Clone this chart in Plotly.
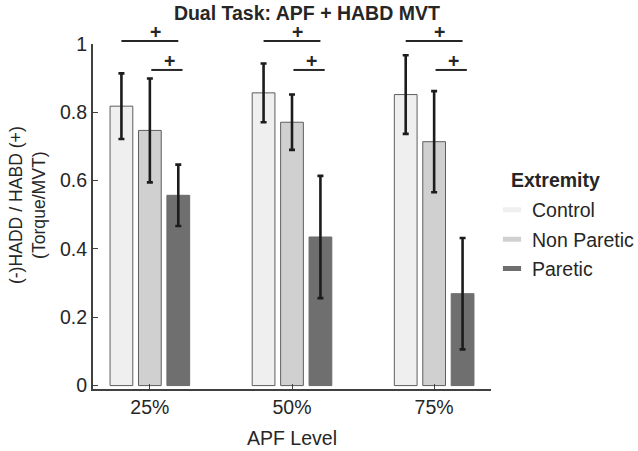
import plotly.graph_objects as go

# ---- data ----
apf_levels = ["25%", "50%", "75%"]
extremities = ["Control", "Non Paretic", "Paretic"]
control_mean = [0.818, 0.857, 0.852]
control_err = [0.096, 0.086, 0.115]
nonparetic_mean = [0.747, 0.771, 0.714]
nonparetic_err = [0.152, 0.081, 0.148]
paretic_mean = [0.557, 0.435, 0.269]
paretic_err = [0.090, 0.179, 0.163]
sig_marks = ["+", "+", "+"]

means = [control_mean, nonparetic_mean, paretic_mean]
errs = [control_err, nonparetic_err, paretic_err]
colors = ["#efefef", "#d0d0d0", "#6f6f6f"]

FONT = "Liberation Sans, Arial, sans-serif"
TXT = "#262626"
FS = 19.5

x_pos = [1, 2, 3]
X_RANGE = [0.6, 3.4]
Y_RANGE = [-0.01, 1.0]

fig = go.Figure()
for name, m, e, c in zip(extremities, means, errs, colors):
    fig.add_trace(go.Bar(
        x=x_pos, y=m, name=name, showlegend=False,
        marker=dict(color=c, line=dict(color="#5e5e5e" if name != "Paretic" else "#6a6a6a", width=1)),
        error_y=dict(type="data", array=e, visible=True, color="#1c1c1c", thickness=2.6, width=3),
    ))
    # legend entries as flat rectangles
    fig.add_trace(go.Scatter(
        x=[None], y=[None], name=name, mode="markers", legendgroup=name,
        marker=dict(symbol="line-ew-open", size=13, color=c, line=dict(color=c, width=5)),
    ))


def px(x):
    return (x - X_RANGE[0]) / (X_RANGE[1] - X_RANGE[0])


def py(y):
    return (y - Y_RANGE[0]) / (Y_RANGE[1] - Y_RANGE[0])


# significance brackets (Control vs Paretic, Non Paretic vs Paretic)
for i, g in enumerate(x_pos):
    for (x0, x1, yl, xt, yt) in [(-0.2, 0.2, 1.009, 0.04, 1.034), (0.01, 0.23, 0.924, 0.135, 0.95)]:
        fig.add_shape(type="line", xref="paper", yref="paper",
                      x0=px(g + x0), x1=px(g + x1), y0=py(yl), y1=py(yl),
                      line=dict(color="#262626", width=2))
        fig.add_annotation(text="<b>" + sig_marks[i] + "</b>", xref="paper", yref="paper",
                           x=px(g + xt), y=py(yt), showarrow=False, height=10,
                           xanchor="center", yanchor="middle",
                           font=dict(family=FONT, size=FS, color=TXT))

fig.update_layout(
    width=638, height=451,
    margin=dict(l=93, r=147, t=44, b=62, autoexpand=False),
    paper_bgcolor="white", plot_bgcolor="white",
    barmode="group", bargap=0.4, bargroupgap=0.2,
    font=dict(family=FONT, size=FS, color=TXT),
    title=dict(text="<b>Dual Task: APF + HABD MVT</b>", x=0.481, xref="container",
               y=1 - 13 / 451, yref="container", xanchor="center", yanchor="middle",
               font=dict(family=FONT, size=FS, color=TXT)),
    xaxis=dict(range=X_RANGE, tickvals=x_pos, ticktext=apf_levels, ticks="inside", ticklen=5,
               tickcolor="#404040", showline=True, linecolor="#404040", linewidth=2,
               showgrid=False, zeroline=False, tickfont=dict(size=FS)),
    yaxis=dict(range=Y_RANGE, tickvals=[0, 0.2, 0.4, 0.6, 0.8, 1.0],
               ticktext=["0", "0.2", "0.4", "0.6", "0.8", "1"], ticks="inside", ticklen=5,
               tickcolor="#404040", showline=True, linecolor="#404040", linewidth=2,
               showgrid=False, zeroline=False, tickfont=dict(size=FS)),
    legend=dict(x=1.0025, xanchor="left", y=0.575, yanchor="top", bgcolor="rgba(0,0,0,0)",
                font=dict(family=FONT, size=FS, color=TXT), tracegroupgap=1),
    showlegend=True,
)

# axis titles
fig.add_annotation(text="(-)HADD / HABD (+)<br>(Torque/MVT)", xref="paper", yref="paper",
                   x=(27.5 - 93) / 398, y=(389.4 - 206) / 345, textangle=-90, showarrow=False,
                   xanchor="center", yanchor="middle",
                   font=dict(family=FONT, size=17.6, color=TXT))
fig.add_annotation(text="APF Level", xref="paper", yref="paper",
                   x=0.5, y=-(438 - 389) / 345, showarrow=False, xanchor="center", yanchor="middle",
                   font=dict(family=FONT, size=FS, color=TXT))
fig.add_annotation(text="<b>Extremity</b>", xref="paper", yref="paper",
                   x=(509 - 93) / 398, y=(389 - 180) / 345, showarrow=False, xanchor="left",
                   yanchor="middle", font=dict(family=FONT, size=FS, color=TXT))

fig.write_html("out.html", config={"displayModeBar": False},
               post_script="document.body.style.margin='0';")
